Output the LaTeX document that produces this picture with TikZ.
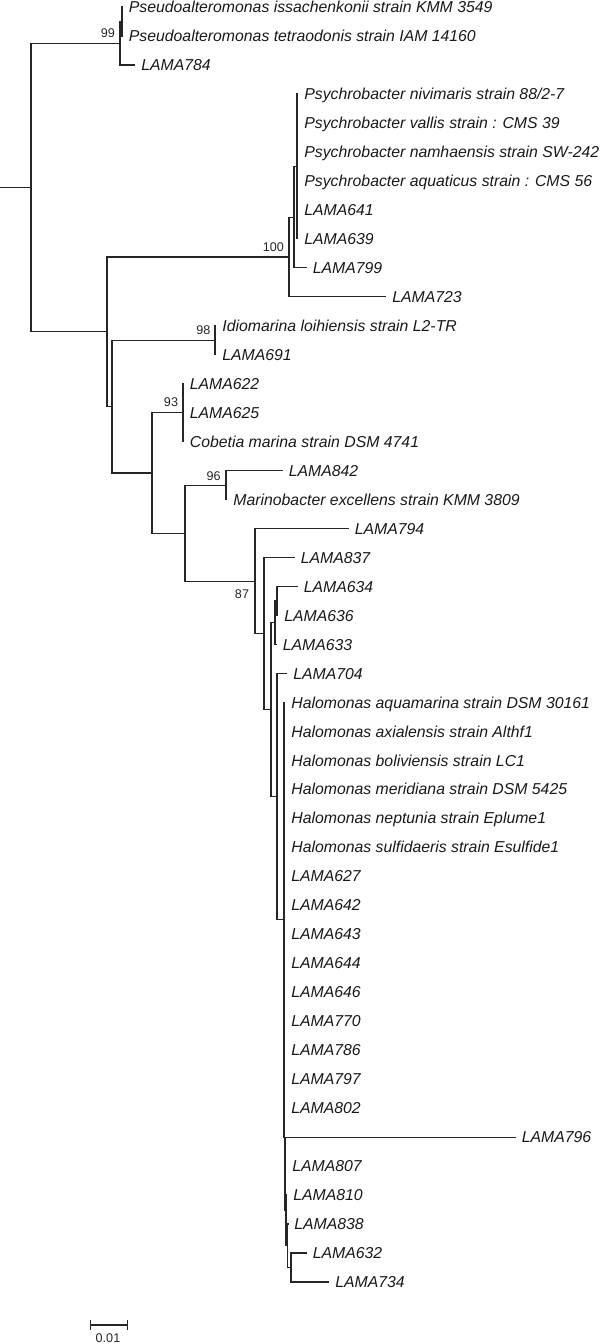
\documentclass[tikz,border=0pt]{standalone}
\usepackage{fontspec}
\setmainfont{Liberation Sans}
\newcommand{\leaffont}{\fontsize{7.9pt}{9pt}\selectfont\itshape}
\newcommand{\bsfont}{\fontsize{6.3pt}{7pt}\selectfont}
\tikzset{
  br/.style={draw=black!85, line width=0.6pt},
  leaf/.style={anchor=west, inner xsep=3pt, inner ysep=0pt, text height=5.6pt, text depth=0pt, font=\leaffont, text=black!90},
  bs/.style={font=\bsfont, inner sep=0pt, text=black!85}
}
\begin{document}
\begin{tikzpicture}[x=0.5pt, y=-0.5pt]
\useasboundingbox (0,0) rectangle (600,1344);
% internal nodes
\coordinate (base) at (0,187.5);
\coordinate (nR) at (31,187.5);
\coordinate (nP) at (120,43.2);
\coordinate (nP1) at (122,21.5);
\coordinate (nD) at (107,331.8);
\coordinate (nC) at (289,257);
\coordinate (nB) at (294,217.1);
\coordinate (nA) at (297,166.4);
\coordinate (nF) at (112,406.5);
\coordinate (nIdio) at (215,340.2);
\coordinate (nE) at (152,472.9);
\coordinate (nCob) at (183,412.7);
\coordinate (nG) at (185,533.1);
\coordinate (nH) at (226,485.1);
\coordinate (nI) at (255,581.1);
\coordinate (nJ) at (264,633.6);
\coordinate (nK) at (271,709.6);
\coordinate (nL2) at (275,622.7);
\coordinate (nL1) at (277,601);
\coordinate (nM) at (277,796.6);
\coordinate (nN) at (284,919.8);
\coordinate (nO) at (285,1137.1);
\coordinate (nS) at (286,1210);
\coordinate (nT) at (287.5,1245);
\coordinate (nQ) at (291,1267.5);
% leaves
\node[leaf] (l1) at (122.5,7) {Pseudoalteromonas issachenkonii strain KMM 3549};
\node[leaf] (l2) at (122.5,36) {Pseudoalteromonas tetraodonis strain IAM 14160};
\node[leaf] (l3) at (135,65) {LAMA784};
\node[leaf] (l4) at (298,93.9) {Psychrobacter nivimaris strain 88/2-7};
\node[leaf] (l5) at (298,122.9) {Psychrobacter vallis strain : CMS 39};
\node[leaf] (l6) at (298,151.9) {Psychrobacter namhaensis strain SW-242};
\node[leaf] (l7) at (298,180.9) {Psychrobacter aquaticus strain : CMS 56};
\node[leaf] (l8) at (298,209.8) {LAMA641};
\node[leaf] (l9) at (298,238.8) {LAMA639};
\node[leaf] (l10) at (306.5,267.8) {LAMA799};
\node[leaf] (l11) at (386,296.8) {LAMA723};
\node[leaf] (l12) at (216,325.7) {Idiomarina loihiensis strain L2-TR};
\node[leaf] (l13) at (216,354.7) {LAMA691};
\node[leaf] (l14) at (183.5,383.7) {LAMA622};
\node[leaf] (l15) at (183.5,412.7) {LAMA625};
\node[leaf] (l16) at (183.5,441.6) {Cobetia marina strain DSM 4741};
\node[leaf] (l17) at (282.5,470.6) {LAMA842};
\node[leaf] (l18) at (227,499.6) {Marinobacter excellens strain KMM 3809};
\node[leaf] (l19) at (348.5,528.6) {LAMA794};
\node[leaf] (l20) at (294.5,557.5) {LAMA837};
\node[leaf] (l21) at (297.5,586.5) {LAMA634};
\node[leaf] (l22) at (278,615.5) {LAMA636};
\node[leaf] (l23) at (276.5,644.5) {LAMA633};
\node[leaf] (l24) at (287,673.4) {LAMA704};
\node[leaf] (l25) at (285,702.4) {Halomonas aquamarina strain DSM 30161};
\node[leaf] (l26) at (285,731.4) {Halomonas axialensis strain Althf1};
\node[leaf] (l27) at (285,760.4) {Halomonas boliviensis strain LC1};
\node[leaf] (l28) at (285,789.3) {Halomonas meridiana strain DSM 5425};
\node[leaf] (l29) at (285,818.3) {Halomonas neptunia strain Eplume1};
\node[leaf] (l30) at (285,847.3) {Halomonas sulfidaeris strain Esulfide1};
\node[leaf] (l31) at (285,876.3) {LAMA627};
\node[leaf] (l32) at (285,905.3) {LAMA642};
\node[leaf] (l33) at (285,934.2) {LAMA643};
\node[leaf] (l34) at (285,963.2) {LAMA644};
\node[leaf] (l35) at (285,992.2) {LAMA646};
\node[leaf] (l36) at (285,1021.2) {LAMA770};
\node[leaf] (l37) at (285,1050.1) {LAMA786};
\node[leaf] (l38) at (285,1079.1) {LAMA797};
\node[leaf] (l39) at (285,1108.1) {LAMA802};
\node[leaf] (l40) at (515.5,1137.1) {LAMA796};
\node[leaf] (l41) at (286,1166) {LAMA807};
\node[leaf] (l42) at (287,1195) {LAMA810};
\node[leaf] (l43) at (288,1224) {LAMA838};
\node[leaf] (l44) at (306.5,1253) {LAMA632};
\node[leaf] (l45) at (329,1281.9) {LAMA734};
% branches
\draw[br] (base) -- (nR);
\draw[br] (nR) |- (nP);
\draw[br] (nR) |- (nD);
\draw[br] (nP) |- (nP1);
\draw[br] (nP) |- (l3.west);
\draw[br] (nP1) |- (l1.west);
\draw[br] (nP1) |- (l2.west);
\draw[br] (nD) |- (nC);
\draw[br] (nD) |- (nF);
\draw[br] (nC) |- (nB);
\draw[br] (nC) |- (l11.west);
\draw[br] (nB) |- (nA);
\draw[br] (nB) |- (l10.west);
\foreach \k in {4,...,9} { \draw[br] (nA) |- (l\k.west); }
\draw[br] (nF) |- (nIdio);
\draw[br] (nF) |- (nE);
\draw[br] (nIdio) |- (l12.west);
\draw[br] (nIdio) |- (l13.west);
\draw[br] (nE) |- (nCob);
\draw[br] (nE) |- (nG);
\foreach \k in {14,15,16} { \draw[br] (nCob) |- (l\k.west); }
\draw[br] (nG) |- (nH);
\draw[br] (nG) |- (nI);
\draw[br] (nH) |- (l17.west);
\draw[br] (nH) |- (l18.west);
\draw[br] (nI) |- (l19.west);
\draw[br] (nI) |- (nJ);
\draw[br] (nJ) |- (l20.west);
\draw[br] (nJ) |- (nK);
\draw[br] (nK) |- (nL2);
\draw[br] (nK) |- (nM);
\draw[br] (nL2) |- (nL1);
\draw[br] (nL2) |- (l23.west);
\draw[br] (nL1) |- (l21.west);
\draw[br] (nL1) |- (l22.west);
\draw[br] (nM) |- (l24.west);
\draw[br] (nM) |- (nN);
\foreach \k in {25,...,39} { \draw[br] (nN) |- (l\k.west); }
\draw[br] (nN) |- (nO);
\draw[br] (nO) |- (l40.west);
\draw[br] (nO) |- (l41.west);
\draw[br] (nO) |- (nS);
\draw[br] (nS) |- (l42.west);
\draw[br] (nS) |- (nT);
\draw[br] (nT) |- (l43.west);
\draw[br] (nT) |- (nQ);
\draw[br] (nQ) |- (l44.west);
\draw[br] (nQ) |- (l45.west);
% bootstrap values
\node[bs] (b99) at (108,33) {99};
\node[bs] (b100) at (273.3,247.5) {100};
\node[bs] (b98) at (203.3,330) {98};
\node[bs] (b93) at (171,402.5) {93};
\node[bs] (b96) at (213.7,476) {96};
\node[bs] (b87) at (242,594.5) {87};
% scale bar
\coordinate (sb1) at (90.7,1325);
\coordinate (sb2) at (127.3,1325);
\draw[br] (sb1) -- (sb2);
\draw[br] ([yshift=2.5pt]sb1) -- ([yshift=-2.5pt]sb1);
\draw[br] ([yshift=2.5pt]sb2) -- ([yshift=-2.5pt]sb2);
\node[bs] (sbl) at (108,1338.5) {0.01};
\end{tikzpicture}
\end{document}
